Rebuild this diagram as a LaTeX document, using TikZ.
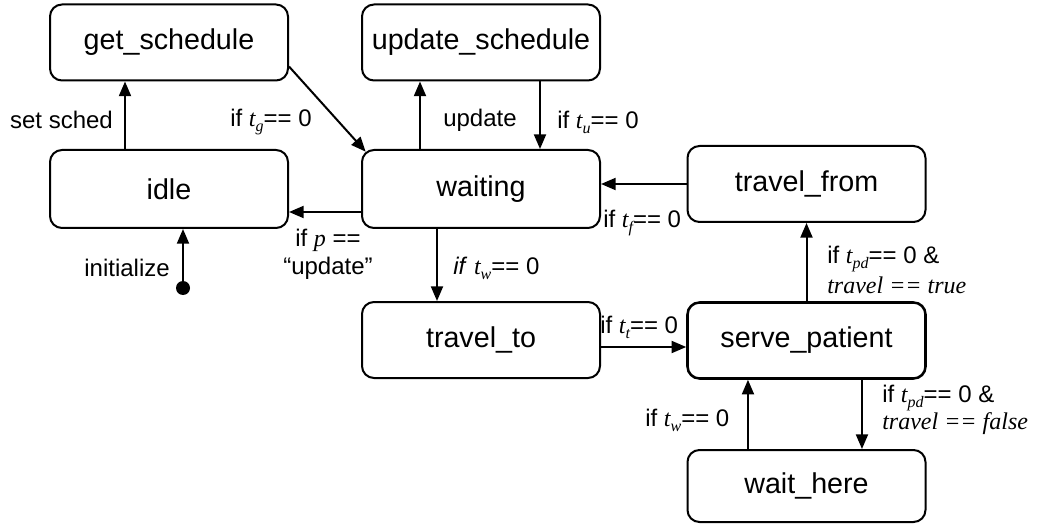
\documentclass[tikz,border=0pt]{standalone}
\usepackage{fontspec}
\setmainfont{Liberation Sans}
\newfontfamily\tms{Liberation Serif}
\usetikzlibrary{arrows.meta}
\newcommand\sv[2]{{\tms\itshape #1}\raisebox{-0.4ex}{\fontsize{12}{12}\selectfont\tms\itshape #2}}
\newcommand\tv[1]{{\tms\itshape #1}}
\tikzset{
  box/.style={draw, rounded corners=9pt, line width=1.5pt, minimum width=178.5pt, minimum height=57pt, inner sep=0pt, font=\fontsize{21.5}{24}\selectfont},
  arr/.style={line width=1.5pt, -{Triangle[length=11pt,width=9pt]}},
  lbl/.style={font=\fontsize{18}{21}\selectfont, inner sep=0pt}
}
\begin{document}
\begin{tikzpicture}[x=0.75pt,y=-0.75pt]
\useasboundingbox (0,0) rectangle (1038,527);
\node[box] (gs) at (169,42.5) {get\_schedule};
\node[box] (us) at (481,42.5) {update\_schedule};
\node[box, minimum height=58.5pt] (idle) at (169,189) {idle};
\node[box, minimum height=58.5pt] (wait) at (481,189) {waiting};
\node[box] (tt) at (481,340) {travel\_to};
\node[box] (tf) at (806.5,184) {travel\_from};
\node[box, line width=1.9pt] (sp) at (806.5,340.5) {serve\_patient};
\node[box, minimum height=54pt] (wh) at (806.5,486) {wait\_here};
\node[circle, fill, inner sep=0pt, minimum size=10.5pt] (init) at (183,288) {};

\draw[arr] ([xshift=-33pt]idle.north) -- ([xshift=-33pt]gs.south);
\draw[arr] (init.center) -- (init.center |- idle.south);
\draw[arr] ([yshift=-18pt]gs.east) -- ([xshift=3.5pt,yshift=-2pt]wait.north west);
\draw[arr] ([xshift=-45.75pt]wait.north) -- ([xshift=-45.75pt]us.south);
\draw[arr] ([xshift=44.25pt]us.south) -- ([xshift=44.25pt]wait.north);
\draw[arr] ([yshift=-17.25pt]wait.west) -- ([yshift=-17.25pt]wait.west -| idle.east);
\draw[arr] ([xshift=-33pt]wait.south) -- ([xshift=-33pt]tt.north);
\draw[arr] (tf.west) -- (tf.west -| wait.east);
\draw[arr] ([yshift=-5.25pt]tt.east) -- ([yshift=-5.25pt]tt.east -| sp.west);
\draw[arr] (sp.north) -- (tf.south);
\draw[arr] ([xshift=41.6pt]sp.south) -- ([xshift=41.6pt]wh.north);
\draw[arr] ([xshift=-43.9pt]wh.north) -- ([xshift=-43.9pt]sp.south);

\node[lbl] (l1) at (61.5,120) {set sched};
\node[lbl, anchor=west] (l2) at (230,122) {if \sv{t}{g}== 0};
\node[lbl, anchor=west] (l3) at (443,120) {update};
\node[lbl, anchor=west] (l4) at (557,122) {if \sv{t}{u}== 0};
\node[lbl, align=center] (l5) at (328,254) {if \tv{p} ==\\“update”};
\node[lbl, anchor=east] (l6) at (170,268) {initialize};
\node[lbl, anchor=west] (l7) at (453,268) {\textit{if} \sv{t}{w}== 0};
\node[lbl, anchor=west] (l8) at (603,223) {if \sv{t}{f}== 0};
\node[lbl, anchor=west] (l9) at (600,327) {if \sv{t}{t}== 0};
\node[lbl, anchor=west] (l10) at (827,259) {if \sv{t}{pd}== 0 \&};
\node[lbl, anchor=west] (l11) at (827,285) {\tv{travel == true}};
\node[lbl, anchor=west] (l12) at (882,398) {if \sv{t}{pd}== 0 \&};
\node[lbl, anchor=west] (l13) at (882,424) {\tv{travel == false}};
\node[lbl, anchor=west] (l14) at (645,420) {if \sv{t}{w}== 0};
\end{tikzpicture}
\end{document}
